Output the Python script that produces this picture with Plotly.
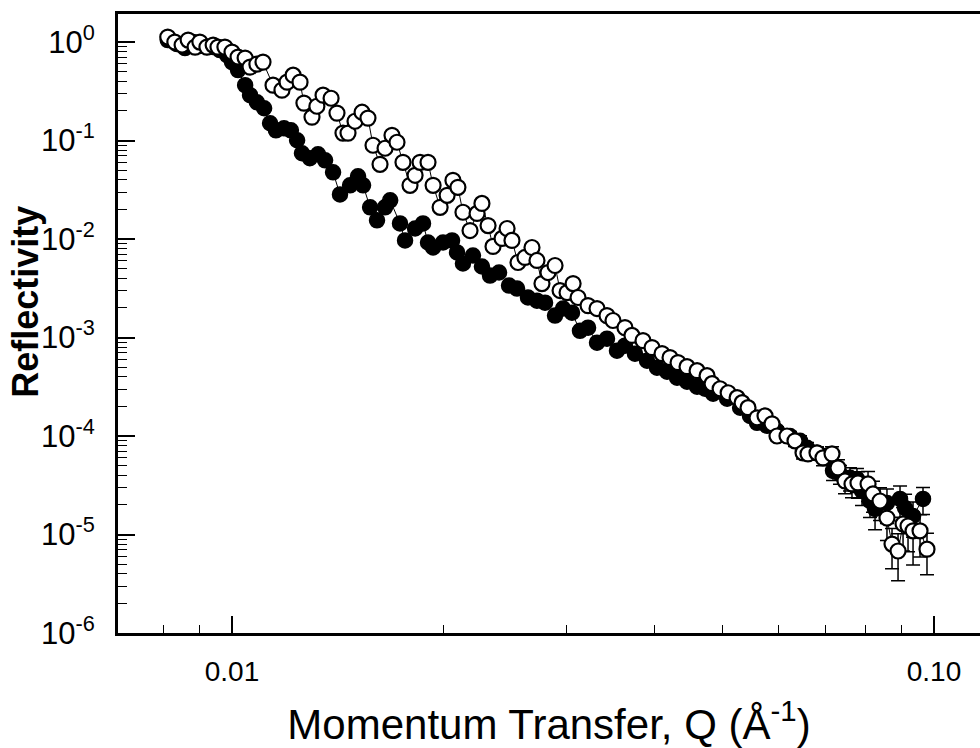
import plotly.graph_objects as go

# ---- data (Q in 1/Angstrom, reflectivity) ----
q_open = [0.00810, 0.00829, 0.00849, 0.00866, 0.00886, 0.00900, 0.00921, 0.00940, 0.00955, 0.00977,
          0.01000, 0.01020, 0.01044, 0.01061, 0.01085, 0.01107, 0.01144, 0.01178, 0.01198, 0.01222,
          0.01250, 0.01266, 0.01300, 0.01321, 0.01348, 0.01384, 0.01411, 0.01439, 0.01463, 0.01497,
          0.01532, 0.01562, 0.01588, 0.01625, 0.01652, 0.01690, 0.01718, 0.01752, 0.01793, 0.01823,
          0.01853, 0.01902, 0.01934, 0.01979, 0.02025, 0.02064, 0.02098, 0.02133, 0.02183, 0.02234,
          0.02270, 0.02316, 0.02354, 0.02425, 0.02465, 0.02505, 0.02555, 0.02614, 0.02675, 0.02719,
          0.02764, 0.02819, 0.02885, 0.02933, 0.03001, 0.03061, 0.03111, 0.03215, 0.03311, 0.03421,
          0.03489, 0.03629, 0.03713, 0.03850, 0.03966, 0.04098, 0.04207, 0.04319, 0.04448, 0.04597,
          0.04750, 0.04829, 0.04958, 0.05090, 0.05242, 0.05329, 0.05433, 0.05596, 0.05745, 0.05878,
          0.05975, 0.06174, 0.06338, 0.06507, 0.06614, 0.06812, 0.06948, 0.07156, 0.07298, 0.07468,
          0.07641, 0.07793, 0.08054, 0.08186, 0.08377, 0.08570, 0.08713, 0.08887, 0.09034, 0.09183,
          0.09335, 0.09552, 0.09772]
r_open = [1.124, 1.0, 0.932, 1.048, 0.889, 1.0, 0.889, 0.932, 0.889, 0.889,
          0.791, 0.704, 0.688, 0.557, 0.597, 0.626, 0.365, 0.325, 0.392, 0.461,
          0.392, 0.240, 0.173, 0.223, 0.289, 0.269, 0.190, 0.119, 0.119, 0.157,
          0.194, 0.169, 0.0896, 0.0574, 0.0835, 0.113, 0.0961, 0.0601, 0.0351, 0.0444,
          0.0601, 0.0601, 0.0351, 0.0210, 0.0278, 0.0394, 0.0335, 0.0187, 0.0122, 0.0182,
          0.0230, 0.0137, 0.00841, 0.01014, 0.0128, 0.00968, 0.00578, 0.00650, 0.00821, 0.00606,
          0.00353, 0.00457, 0.00539, 0.00300, 0.00286, 0.00353, 0.00255, 0.00211, 0.00197, 0.00167,
          0.00149, 0.00126, 0.00105, 0.000930, 0.000790, 0.000686, 0.000625, 0.000556, 0.000506, 0.000461,
          0.000410, 0.000340, 0.000302, 0.000275, 0.000245, 0.000218, 0.000194, 0.000153, 0.000160, 0.000133,
          0.000100, 0.000100, 8.94e-5, 6.75e-5, 6.59e-5, 6.75e-5, 6.00e-5, 6.59e-5, 4.75e-5, 3.50e-5,
          3.26e-5, 3.34e-5, 3.26e-5, 2.58e-5, 2.19e-5, 1.47e-5, 8.0e-6, 6.8e-6, 1.28e-5, 1.22e-5,
          1.09e-5, 1.09e-5, 7.1e-6]
e_open = [None] * 87 + [1.2e-5, 1.3e-5, 1.2e-5,
          1.0e-5, 1.1e-5, 1.1e-5, 9e-6, 9e-6, 1.0e-5, 1.0e-5, 1.2e-5, 1.0e-5, 9e-6,
          9e-6, 1.0e-5, 1.1e-5, 9e-6, 8e-6, 6e-6, 3.5e-6, 3.4e-6, 6e-6, 5.5e-6,
          6e-6, 5e-6, 3.2e-6]

q_fill = [0.00810, 0.00835, 0.00857, 0.00880, 0.00900, 0.00921, 0.00940, 0.00961, 0.00984, 0.01000,
          0.01020, 0.01044, 0.01061, 0.01085, 0.01111, 0.01133, 0.01155, 0.01186, 0.01213, 0.01238,
          0.01258, 0.01291, 0.01326, 0.01357, 0.01393, 0.01425, 0.01473, 0.01512, 0.01537, 0.01573,
          0.01609, 0.01652, 0.01680, 0.01735, 0.01764, 0.01823, 0.01871, 0.01902, 0.01934, 0.01998,
          0.02058, 0.02092, 0.02133, 0.02204, 0.02270, 0.02331, 0.02401, 0.02481, 0.02547, 0.02640,
          0.02719, 0.02792, 0.02885, 0.02962, 0.03050, 0.03131, 0.03215, 0.03311, 0.03421, 0.03535,
          0.03629, 0.03750, 0.03901, 0.04031, 0.04166, 0.04305, 0.04448, 0.04597, 0.04719, 0.04845,
          0.05073, 0.05294, 0.05469, 0.05596, 0.05783, 0.05975, 0.06235, 0.06443, 0.06593, 0.06812,
          0.07040, 0.07180, 0.07346, 0.07591, 0.07767, 0.07896, 0.08106, 0.08241, 0.08570, 0.08945,
          0.09094, 0.09335, 0.09645]
r_fill = [1.048, 0.954, 0.869, 1.0, 0.911, 0.889, 0.889, 0.829, 0.738, 0.626,
          0.519, 0.365, 0.289, 0.245, 0.213, 0.150, 0.127, 0.133, 0.127, 0.1007,
          0.0743, 0.0661, 0.0726, 0.0630, 0.0476, 0.0284, 0.0351, 0.0433, 0.0351, 0.0210,
          0.0155, 0.0210, 0.0247, 0.0144, 0.00968, 0.0128, 0.0144, 0.00923, 0.00821, 0.00923,
          0.00968, 0.00731, 0.00565, 0.00681, 0.00526, 0.00426, 0.00457, 0.00337, 0.00314, 0.00255,
          0.00237, 0.00226, 0.00167, 0.00197, 0.00179, 0.00117, 0.00126, 0.000887, 0.000974, 0.000736,
          0.000827, 0.000686, 0.000582, 0.000494, 0.000450, 0.000391, 0.000356, 0.000317, 0.000302, 0.000269,
          0.000239, 0.000194, 0.000160, 0.000136, 0.000127, 0.000113, 0.000100, 8.94e-5, 7.59e-5, 6.75e-5,
          6.29e-5, 4.43e-5, 4.13e-5, 3.76e-5, 3.67e-5, 2.77e-5, 2.19e-5, 1.82e-5, 2.09e-5, 2.30e-5,
          1.86e-5, 1.54e-5, 2.30e-5]
e_fill = [None] * 73 + [1.0e-5, 1.1e-5, 1.1e-5, 1.1e-5,
          1.1e-5, 1.0e-5, 1.0e-5, 1.1e-5, 9e-6, 9e-6, 1.0e-5, 1.0e-5, 8e-6,
          7e-6, 7e-6, 8e-6, 8e-6, 7e-6, 6e-6, 7e-6]

y_tickvals = [1e-6, 1e-5, 1e-4, 1e-3, 1e-2, 1e-1, 1e0]
y_ticktext = ["10<sup>-6</sup>", "10<sup>-5</sup>", "10<sup>-4</sup>", "10<sup>-3</sup>",
              "10<sup>-2</sup>", "10<sup>-1</sup>", "10<sup>0</sup>"]
y_minor = [k * 10.0 ** n for n in range(-6, 0) for k in range(2, 10)]
x_tickvals = [0.01, 0.1]
x_ticktext = ["0.01", "0.10"]
x_minor = [0.008, 0.009, 0.02, 0.03, 0.04, 0.05, 0.06, 0.07, 0.08, 0.09]

FONT = "Liberation Sans, Arial, Helvetica, sans-serif"

fig = go.Figure()
fig.add_trace(go.Scatter(
    x=q_fill, y=r_fill, mode="lines+markers",
    line=dict(color="black", width=1),
    marker=dict(symbol="circle", size=15, color="black", line=dict(color="black", width=1.5)),
    error_y=dict(type="data", array=e_fill, color="black", thickness=1.5, width=7),
    showlegend=False))
fig.add_trace(go.Scatter(
    x=q_open, y=r_open, mode="lines+markers",
    line=dict(color="black", width=1),
    marker=dict(symbol="circle", size=15, color="white", line=dict(color="black", width=2.2)),
    error_y=dict(type="data", array=e_open, color="black", thickness=1.5, width=7),
    showlegend=False))

yr = [-6, 0.285]
fig.update_layout(
    width=980, height=748,
    margin=dict(l=118, r=0, t=14, b=115),
    paper_bgcolor="white", plot_bgcolor="white",
    font=dict(family=FONT, color="black"),
    xaxis=dict(
        type="log", range=[-2.1624, -0.9345],
        showline=True, linecolor="black", linewidth=2.8, mirror=True,
        ticks="inside", ticklen=17, tickwidth=1.6, tickcolor="black",
        tickmode="array", tickvals=x_tickvals, ticktext=x_ticktext,
        tickfont=dict(size=28), ticklabelstandoff=11,
        minor=dict(tickmode="array", tickvals=x_minor, ticks="inside", ticklen=8,
                   tickwidth=1.3, tickcolor="black", showgrid=False),
        showgrid=False, zeroline=False,
        title=dict(text="Momentum Transfer, Q (Å<sup>-1</sup>)", font=dict(size=42), standoff=30),
    ),
    yaxis=dict(
        type="log", range=yr,
        showline=True, linecolor="black", linewidth=2.8,
        ticks="inside", ticklen=17, tickwidth=1.6, tickcolor="black",
        tickmode="array", tickvals=y_tickvals, ticktext=y_ticktext,
        tickfont=dict(size=31), ticklabelstandoff=14,
        minor=dict(tickmode="array", tickvals=y_minor, ticks="inside", ticklen=9,
                   tickwidth=1.3, tickcolor="black", showgrid=False),
        showgrid=False, zeroline=False,
    ),
    yaxis2=dict(
        type="log", range=yr, overlaying="y", side="right", anchor="x", matches="y",
        showline=False, showticklabels=False,
        ticks="inside", ticklen=13, tickwidth=1.6, tickcolor="black",
        tickmode="array", tickvals=y_tickvals,
        minor=dict(tickmode="array", tickvals=y_minor, ticks="inside", ticklen=4,
                   tickwidth=1.3, tickcolor="black", showgrid=False),
        showgrid=False, zeroline=False,
    ),
    annotations=[dict(
        text="<b>Reflectivity</b>", textangle=-90, font=dict(size=36),
        xref="paper", yref="paper", x=0, xshift=-92, y=0.535,
        xanchor="center", yanchor="middle", showarrow=False)],
)

fig.write_html("out.html")
